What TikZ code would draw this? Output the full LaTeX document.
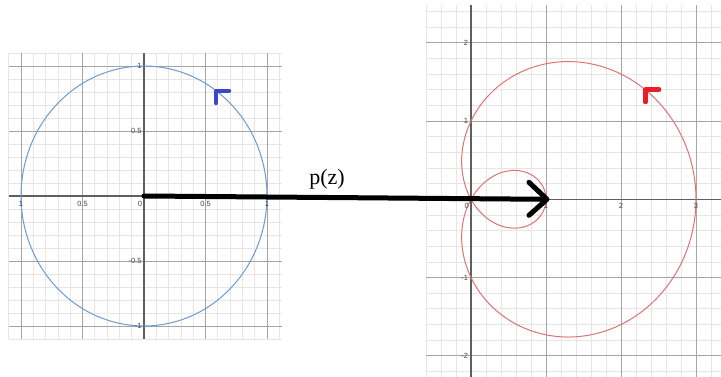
\documentclass[tikz,border=0pt]{standalone}
\usepackage{fontspec}
\setmainfont{Liberation Serif}
\newfontfamily\lblfont{Liberation Sans}
\usetikzlibrary{calc}
\definecolor{minorgrid}{RGB}{230,230,230}
\definecolor{majorgrid}{RGB}{165,165,165}
\definecolor{axiscol}{RGB}{95,95,95}
\definecolor{bluecurve}{RGB}{110,155,210}
\definecolor{redcurve}{RGB}{222,115,115}
\definecolor{bluemark}{RGB}{60,70,200}
\definecolor{redmark}{RGB}{235,30,40}
\definecolor{ticklbl}{RGB}{70,70,70}
\begin{document}
\begin{tikzpicture}[x=1pt,y=1pt,
  minorline/.style={draw=minorgrid,line width=0.7pt},
  majorline/.style={draw=majorgrid,line width=0.8pt},
  axisline/.style={draw=axiscol,line width=1.3pt},
  ticklabel/.style={font=\lblfont\fontsize{7.5}{8}\selectfont,text=ticklbl,inner sep=0.5pt},
  penmark/.style={line width=4.5pt,line cap=round,line join=round},
  maparrow/.style={draw=black,line width=5pt,line cap=round}]
\useasboundingbox (0,0) rectangle (721,377);
\fill[white] (0,0) rectangle (721,377);

% ---------- left panel: unit circle ----------
\begin{scope}[shift={(144,181)},x=123pt,y=130pt]
  \foreach \i in {-11,...,11}
    \draw[minorline] (\i/10,-1.1) -- (\i/10,1.1);
  \foreach \j in {-11,...,11}
    \draw[minorline] (-1.1,\j/10) -- (1.12,\j/10);
  \foreach \v in {-1,-0.5,0.5,1} {
    \draw[majorline] (\v,-1.1) -- (\v,1.1);
    \draw[majorline] (-1.1,\v) -- (1.12,\v);
  }
  \draw[axisline] (-1.1,0) -- (1.12,0);
  \draw[axisline] (0,-1.1) -- (0,1.1);
  \draw[bluecurve,line width=1pt] plot[domain=0:360,samples=160,smooth cycle] ({cos(\x)},{sin(\x)});
  \coordinate (zL) at (0,0);
  % tick labels
  \node[ticklabel,anchor=north] (lxa) at (-1,-0.035) {1};
  \node[ticklabel,anchor=north] (lxb) at (-0.5,-0.035) {0.5};
  \node[ticklabel,anchor=north east] (lxc) at (-0.01,-0.035) {0};
  \node[ticklabel,anchor=north] (lxd) at (0.5,-0.035) {0.5};
  \node[ticklabel,anchor=north] (lxe) at (1,-0.035) {1};
  \node[ticklabel,anchor=east] (lya) at (-0.015,1) {1};
  \node[ticklabel,anchor=east] (lyb) at (-0.015,0.5) {0.5};
  \node[ticklabel,anchor=east] (lyc) at (-0.015,-0.5) {-0.5};
  \node[ticklabel,anchor=east] (lyd) at (-0.015,-1) {-1};
\end{scope}

% ---------- right panel: p(z) = 1 + z + z^2 ----------
\begin{scope}[shift={(471,177.7)},x=75pt,y=78.25pt]
  \foreach \i in {-3,...,16}
    \draw[minorline] (\i/5,-2.28) -- (\i/5,2.48);
  \foreach \j in {-11,...,12}
    \draw[minorline] (-0.6,\j/5) -- (3.34,\j/5);
  \foreach \v in {1,2,3}
    \draw[majorline] (\v,-2.28) -- (\v,2.48);
  \foreach \v in {-2,-1,1,2}
    \draw[majorline] (-0.6,\v) -- (3.34,\v);
  \draw[axisline] (-0.6,0) -- (3.34,0);
  \draw[axisline] (0,-2.28) -- (0,2.48);
  \draw[redcurve,line width=1pt] plot[domain=0:360,samples=240,smooth cycle]
     ({1+cos(\x)+cos(2*\x)},{sin(\x)+sin(2*\x)});
  \coordinate (pR) at (1,0);
  % tick labels
  \node[ticklabel,anchor=north east] (rxa) at (-0.02,-0.04) {0};
  \node[ticklabel,anchor=north] (rxb) at (1,-0.04) {1};
  \node[ticklabel,anchor=north] (rxc) at (2,-0.04) {2};
  \node[ticklabel,anchor=north] (rxd) at (3,-0.04) {3};
  \node[ticklabel,anchor=east] (rya) at (-0.03,2) {2};
  \node[ticklabel,anchor=east] (ryb) at (-0.03,1) {1};
  \node[ticklabel,anchor=east] (ryc) at (-0.03,-1) {-1};
  \node[ticklabel,anchor=east] (ryd) at (-0.03,-2) {-2};
\end{scope}

% ---------- mapping arrow ----------
\draw[maparrow] (zL) -- (pR);
\draw[maparrow,line join=round] ($(pR)+(-17,17)$) -- ($(pR)+(1,0)$) -- ($(pR)+(-17,-16)$);
\node[font=\fontsize{22}{24}\selectfont,inner sep=0pt] (plabel) at (327,198) {p(z)};

% ---------- orientation marks ----------
\draw[bluemark,penmark] (216,274) -- (216,286) -- (229,286);
\draw[redmark,penmark] (645.5,275) -- (645.5,287.5) -- (659,287.5);
\end{tikzpicture}
\end{document}
